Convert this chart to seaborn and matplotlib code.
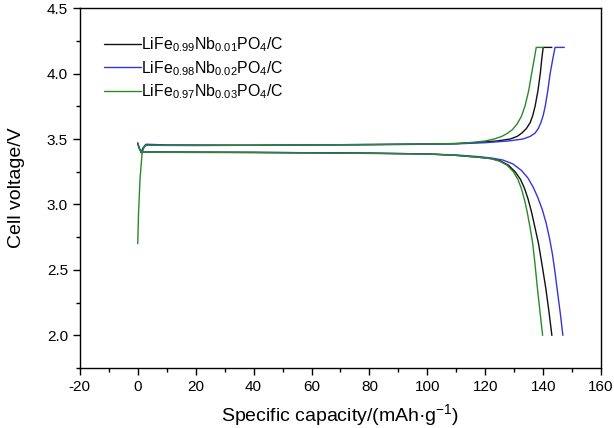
import matplotlib
matplotlib.use('Agg')

import pandas as pd
import seaborn as sns
from matplotlib import pyplot as plt
from matplotlib import ticker

# charge / discharge curves (capacity mAh/g, voltage V)
nb01_charge_cap = [1.2, 1.8, 2.8, 10, 40, 80, 100, 110, 118, 124, 128.6, 131, 132.6, 134.2, 135.5, 136.4, 137.2, 138.2, 139, 139.5, 140, 143]
nb01_charge_v = [3.395, 3.43, 3.455, 3.452, 3.452, 3.458, 3.462, 3.465, 3.475, 3.485, 3.50, 3.52, 3.545, 3.58, 3.625, 3.68, 3.75, 3.87, 4.0, 4.11, 4.2, 4.2]
nb01_dis_cap = [0, 0.5, 1.2, 10, 40, 80, 100, 110, 118, 122, 125, 128, 130.3, 132.2, 133.6, 134.8, 136, 137.2, 138.4, 139.6, 140.9, 142, 143]
nb01_dis_v = [3.47, 3.43, 3.40, 3.40, 3.398, 3.392, 3.386, 3.375, 3.36, 3.35, 3.335, 3.30, 3.25, 3.19, 3.12, 3.04, 2.94, 2.82, 2.70, 2.54, 2.36, 2.18, 2.0]

nb02_charge_cap = [1.2, 1.8, 2.8, 10, 40, 80, 100, 110, 120, 128, 133, 135.5, 137.2, 138.3, 139.2, 140, 140.7, 141.6, 142.4, 143.3, 144.1, 147.3]
nb02_charge_v = [3.395, 3.43, 3.46, 3.455, 3.452, 3.456, 3.46, 3.463, 3.472, 3.485, 3.50, 3.52, 3.545, 3.58, 3.625, 3.68, 3.75, 3.87, 4.0, 4.11, 4.2, 4.2]
nb02_dis_cap = [0, 0.5, 1.2, 10, 40, 80, 100, 110, 118, 122, 126, 129.5, 132.5, 134.8, 136.6, 138.2, 139.7, 141, 142.2, 143.2, 144.1, 144.9, 145.9, 146.8]
nb02_dis_v = [3.465, 3.43, 3.40, 3.40, 3.398, 3.392, 3.386, 3.378, 3.365, 3.355, 3.34, 3.31, 3.26, 3.20, 3.13, 3.05, 2.96, 2.86, 2.74, 2.62, 2.48, 2.34, 2.17, 2.0]

nb03_charge_cap = [0, 0.3, 0.8, 1.5, 2.2, 3, 20, 60, 100, 110, 116, 120, 123, 125.5, 127.4, 129.3, 131, 132.5, 133.7, 135, 136, 136.9, 137.6, 140]
nb03_charge_v = [2.70, 2.95, 3.2, 3.39, 3.44, 3.452, 3.45, 3.455, 3.462, 3.466, 3.475, 3.485, 3.50, 3.518, 3.54, 3.57, 3.615, 3.675, 3.75, 3.87, 4.0, 4.11, 4.2, 4.2]
nb03_dis_cap = [0, 0.5, 1.2, 10, 40, 80, 100, 110, 118, 122, 125, 127.5, 129.7, 131.3, 132.5, 133.5, 134.5, 135.5, 136.4, 137.2, 138, 138.9, 139.8]
nb03_dis_v = [3.47, 3.43, 3.40, 3.398, 3.396, 3.39, 3.385, 3.375, 3.36, 3.35, 3.33, 3.30, 3.25, 3.19, 3.12, 3.04, 2.94, 2.82, 2.70, 2.54, 2.36, 2.18, 2.0]

labels = [
    'LiFe$_{0.99}$Nb$_{0.01}$PO$_4$/C',
    'LiFe$_{0.98}$Nb$_{0.02}$PO$_4$/C',
    'LiFe$_{0.97}$Nb$_{0.03}$PO$_4$/C',
]
colors = ['#111111', '#3535d8', '#2a8a2a']

curves = [
    (labels[0], nb01_charge_cap, nb01_charge_v, nb01_dis_cap, nb01_dis_v),
    (labels[1], nb02_charge_cap, nb02_charge_v, nb02_dis_cap, nb02_dis_v),
    (labels[2], nb03_charge_cap, nb03_charge_v, nb03_dis_cap, nb03_dis_v),
]

frames = []
for label, c_cap, c_v, d_cap, d_v in curves:
    frames.append(pd.DataFrame({'cap': c_cap, 'volt': c_v, 'sample': label, 'branch': 'charge'}))
    frames.append(pd.DataFrame({'cap': d_cap, 'volt': d_v, 'sample': label, 'branch': 'discharge'}))
df = pd.concat(frames, ignore_index=True)

sns.set_style('ticks')
plt.rcParams['font.family'] = ['Liberation Sans', 'DejaVu Sans']
plt.rcParams['mathtext.fontset'] = 'custom'
plt.rcParams['mathtext.rm'] = 'Liberation Sans'
plt.rcParams['mathtext.it'] = 'Liberation Sans:italic'
plt.rcParams['mathtext.default'] = 'regular'
plt.rcParams['axes.unicode_minus'] = False
plt.rcParams['text.color'] = 'black'
plt.rcParams['axes.labelcolor'] = 'black'

fig = plt.figure(figsize=(6.14, 4.28), dpi=100)
ax = fig.add_axes([0.130, 0.140, 0.849, 0.841])

sns.lineplot(df, x='cap', y='volt', hue='sample', units='branch', estimator=None,
             sort=False, palette=colors, hue_order=labels, linewidth=1.0, ax=ax)

ax.set_xlim(-20, 160)
ax.set_ylim(1.75, 4.5)
ax.xaxis.set_major_locator(ticker.MultipleLocator(20))
ax.xaxis.set_minor_locator(ticker.MultipleLocator(10))
ax.yaxis.set_major_locator(ticker.MultipleLocator(0.5))
ax.yaxis.set_minor_locator(ticker.MultipleLocator(0.25))
ax.yaxis.set_major_formatter(ticker.FormatStrFormatter('%.1f'))
ax.tick_params(which='major', direction='out', length=5, width=1, labelsize=11,
               color='black', labelcolor='black')
ax.tick_params(which='minor', direction='out', length=3, width=1, color='black')

for spine in ax.spines.values():
    spine.set_visible(True)
    spine.set_color('black')
    spine.set_linewidth(1)

ax.set_xlabel('Specific capacity/(mAh·g$^{-1}$)', fontsize=14, labelpad=6)
ax.set_ylabel('Cell voltage/V', fontsize=14, labelpad=16)

ax.legend(loc='upper left', bbox_to_anchor=(0.035, 0.942), frameon=False, fontsize=11.4,
          handlelength=2.3, handletextpad=0.0, labelspacing=0.31, borderaxespad=0)

fig.savefig('out.png', dpi=100)
